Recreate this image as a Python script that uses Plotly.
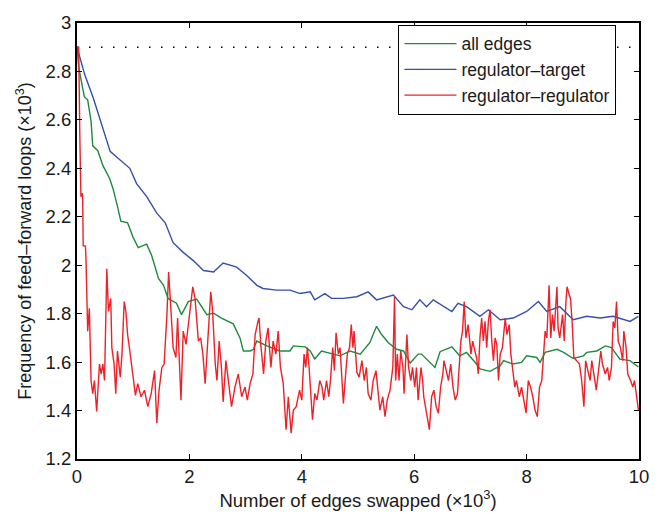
import plotly.graph_objects as go

# ---------------- data ----------------
green_x = [0.00, 0.03, 0.13, 0.19, 0.25, 0.28, 0.37, 0.46, 0.58, 0.64, 0.72, 0.78, 0.90, 1.00, 1.09,
           1.24, 1.33, 1.45, 1.54, 1.62, 1.77, 1.86, 1.98, 2.13, 2.31, 2.43, 2.57, 2.78, 2.90, 2.96,
           3.08, 3.14, 3.20, 3.38, 3.61, 3.79, 3.85, 4.06, 4.15, 4.23, 4.35, 4.56, 4.68, 4.86, 5.04,
           5.21, 5.33, 5.42, 5.54, 5.69, 5.81, 5.93, 6.07, 6.13, 6.28, 6.37, 6.46, 6.67, 6.81, 6.93,
           7.11, 7.17, 7.35, 7.53, 7.59, 7.76, 7.91, 8.00, 8.18, 8.24, 8.33, 8.54, 8.66, 8.83, 9.01,
           9.07, 9.25, 9.40, 9.51, 9.66, 9.84, 9.99]
green_y = [2.90, 2.818, 2.696, 2.683, 2.595, 2.493, 2.473, 2.412, 2.358, 2.317, 2.243, 2.182, 2.175, 2.114, 2.073,
           2.087, 2.039, 1.945, 1.917, 1.863, 1.843, 1.796, 1.85, 1.86, 1.796, 1.802, 1.782, 1.758, 1.70, 1.646,
           1.646, 1.653, 1.687, 1.667, 1.646, 1.646, 1.667, 1.663, 1.646, 1.613, 1.646, 1.633, 1.626, 1.646, 1.633,
           1.68, 1.748, 1.714, 1.68, 1.653, 1.646, 1.596, 1.633, 1.633, 1.599, 1.578, 1.643, 1.663, 1.626, 1.64,
           1.592, 1.572, 1.562, 1.585, 1.606, 1.592, 1.599, 1.626, 1.619, 1.599, 1.64, 1.653, 1.64, 1.615, 1.626,
           1.64, 1.646, 1.667, 1.66, 1.612, 1.606, 1.58]

blue_x = [0.00, 0.04, 0.14, 0.29, 0.47, 0.59, 0.71, 0.85, 0.94, 1.06, 1.24, 1.42, 1.57, 1.71, 1.89,
          2.07, 2.25, 2.43, 2.60, 2.84, 3.02, 3.20, 3.31, 3.55, 3.79, 3.97, 4.15, 4.23, 4.41, 4.53,
          4.74, 4.98, 5.18, 5.33, 5.63, 5.81, 5.96, 6.10, 6.22, 6.34, 6.52, 6.67, 6.78, 6.93, 7.17,
          7.32, 7.53, 7.76, 8.00, 8.21, 8.36, 8.59, 8.83, 9.07, 9.31, 9.54, 9.84, 9.99]
blue_y = [2.90, 2.866, 2.785, 2.69, 2.554, 2.47, 2.446, 2.419, 2.40, 2.337, 2.283, 2.215, 2.175, 2.093, 2.053,
          2.019, 1.978, 1.972, 2.009, 1.992, 1.958, 1.917, 1.904, 1.897, 1.897, 1.883, 1.89, 1.857, 1.883, 1.863,
          1.863, 1.87, 1.89, 1.857, 1.877, 1.829, 1.816, 1.857, 1.829, 1.857, 1.829, 1.809, 1.843, 1.829, 1.789,
          1.816, 1.775, 1.782, 1.809, 1.85, 1.809, 1.829, 1.775, 1.789, 1.782, 1.789, 1.768, 1.789]

red_x = [0.00, 0.03, 0.05, 0.07, 0.10, 0.11, 0.15, 0.16, 0.19, 0.22, 0.25, 0.28, 0.31, 0.35, 0.40,
         0.43, 0.46, 0.49, 0.53, 0.56, 0.60, 0.62, 0.66, 0.69, 0.72, 0.77, 0.80, 0.84, 0.87, 0.90,
         0.94, 0.99, 1.04, 1.08, 1.14, 1.20, 1.26, 1.32, 1.38, 1.42, 1.46, 1.51, 1.55, 1.60, 1.63,
         1.67, 1.71, 1.76, 1.79, 1.85, 1.89, 1.94, 2.00, 2.06, 2.10, 2.13, 2.16, 2.20, 2.24, 2.28,
         2.32, 2.35, 2.38, 2.41, 2.46, 2.49, 2.53, 2.57, 2.60, 2.65, 2.69, 2.75, 2.81, 2.87, 2.93,
         2.99, 3.03, 3.08, 3.13, 3.17, 3.22, 3.24, 3.27, 3.32, 3.36, 3.40, 3.45, 3.49, 3.54, 3.58,
         3.62, 3.67, 3.72, 3.76, 3.81, 3.85, 3.90, 3.96, 4.00, 4.04, 4.07, 4.10, 4.13, 4.16, 4.19,
         4.23, 4.27, 4.32, 4.36, 4.39, 4.44, 4.48, 4.51, 4.55, 4.58, 4.61, 4.65, 4.68, 4.71, 4.74,
         4.78, 4.81, 4.85, 4.88, 4.91, 4.93, 4.98, 5.02, 5.07, 5.11, 5.15, 5.18, 5.23, 5.27, 5.32,
         5.36, 5.39, 5.44, 5.48, 5.52, 5.57, 5.62, 5.65, 5.67, 5.70, 5.73, 5.76, 5.80, 5.82, 5.87,
         5.90, 5.94, 5.97, 6.01, 6.04, 6.07, 6.12, 6.15, 6.17, 6.22, 6.27, 6.31, 6.35, 6.39, 6.43,
         6.47, 6.51, 6.53, 6.57, 6.61, 6.65, 6.69, 6.73, 6.77, 6.80, 6.83, 6.86, 6.89, 6.92, 6.96,
         7.01, 7.04, 7.08, 7.11, 7.14, 7.17, 7.20, 7.23, 7.26, 7.29, 7.32, 7.35, 7.38, 7.41, 7.44,
         7.47, 7.50, 7.53, 7.57, 7.62, 7.65, 7.69, 7.72, 7.76, 7.79, 7.82, 7.87, 7.91, 7.95, 7.99,
         8.03, 8.07, 8.11, 8.15, 8.19, 8.23, 8.27, 8.30, 8.33, 8.36, 8.40, 8.43, 8.46, 8.49, 8.54,
         8.56, 8.59, 8.64, 8.67, 8.70, 8.72, 8.76, 8.78, 8.81, 8.84, 8.89, 8.94, 8.98, 9.02, 9.05,
         9.09, 9.13, 9.16, 9.20, 9.24, 9.28, 9.32, 9.35, 9.40, 9.44, 9.47, 9.51, 9.54, 9.57, 9.60,
         9.63, 9.67, 9.71, 9.73, 9.77, 9.80, 9.85, 9.89, 9.92, 9.96, 9.99]
red_y = [2.90, 2.90, 2.54, 2.283, 2.297, 2.08, 2.08, 2.026, 1.728, 1.822, 1.524, 1.47, 1.524, 1.396, 1.592,
         1.55, 1.592, 1.524, 1.985, 1.809, 1.863, 1.66, 1.592, 1.47, 1.646, 1.538, 1.633, 1.85, 1.809, 1.714,
         1.646, 1.55, 1.463, 1.511, 1.457, 1.484, 1.416, 1.47, 1.565, 1.348, 1.484, 1.578, 1.592, 1.796, 1.972,
         1.822, 1.66, 1.619, 1.782, 1.443, 1.728, 1.673, 1.782, 1.911, 1.863, 1.768, 1.687, 1.70, 1.633, 1.511,
         1.66, 1.768, 1.89, 1.822, 1.592, 1.524, 1.687, 1.578, 1.436, 1.606, 1.524, 1.416, 1.497, 1.551, 1.457,
         1.497, 1.443, 1.511, 1.551, 1.714, 1.768, 1.782, 1.673, 1.551, 1.687, 1.741, 1.578, 1.687, 1.633, 1.728,
         1.578, 1.511, 1.321, 1.457, 1.307, 1.402, 1.416, 1.484, 1.443, 1.633, 1.578, 1.66, 1.578, 1.47, 1.362,
         1.47, 1.443, 1.524, 1.497, 1.443, 1.524, 1.457, 1.524, 1.66, 1.565, 1.721, 1.633, 1.66, 1.538, 1.429,
         1.551, 1.633, 1.66, 1.755, 1.66, 1.728, 1.558, 1.538, 1.606, 1.524, 1.578, 1.47, 1.443, 1.524, 1.565,
         1.457, 1.402, 1.457, 1.375, 1.443, 1.484, 1.578, 1.87, 1.524, 1.633, 1.524, 1.646, 1.578, 1.47, 1.714,
         1.578, 1.524, 1.578, 1.497, 1.578, 1.443, 1.578, 1.524, 1.457, 1.389, 1.321, 1.457, 1.484, 1.416, 1.389,
         1.497, 1.551, 1.606, 1.565, 1.524, 1.592, 1.497, 1.443, 1.47, 1.578, 1.687, 1.728, 1.85, 1.70, 1.755,
         1.633, 1.687, 1.646, 1.619, 1.551, 1.70, 1.782, 1.687, 1.768, 1.66, 1.768, 1.816, 1.687, 1.606, 1.70,
         1.673, 1.524, 1.633, 1.66, 1.782, 1.714, 1.755, 1.633, 1.565, 1.497, 1.524, 1.457, 1.497, 1.443, 1.389,
         1.524, 1.497, 1.457, 1.402, 1.375, 1.497, 1.524, 1.633, 1.728, 1.70, 1.917, 1.70, 1.796, 1.728, 1.911,
         1.741, 1.70, 1.796, 1.687, 1.85, 1.911, 1.877, 1.863, 1.768, 1.619, 1.606, 1.592, 1.524, 1.416, 1.606,
         1.565, 1.524, 1.606, 1.551, 1.484, 1.565, 1.646, 1.592, 1.551, 1.578, 1.524, 1.578, 1.768, 1.741, 1.85,
         1.687, 1.66, 1.606, 1.728, 1.66, 1.551, 1.524, 1.497, 1.524, 1.443, 1.402]

reference_level = 2.9
ref_x = [0, 10]

x_ticks = [0, 2, 4, 6, 8, 10]
x_tick_text = ["0", "2", "4", "6", "8", "10"]
y_ticks = [1.2, 1.4, 1.6, 1.8, 2.0, 2.2, 2.4, 2.6, 2.8, 3.0]
y_tick_text = ["1.2", "1.4", "1.6", "1.8", "2", "2.2", "2.4", "2.6", "2.8", "3"]

series_names = ["all edges", "regulator–target", "regulator–regulator"]

# ---------------- figure ----------------
FONT = "Liberation Sans, Arial, Helvetica, sans-serif"
TXT = "#1a1a1a"
GREEN = "#1f8a3f"
BLUE = "#3450aa"
RED = "#ee2028"

fig = go.Figure()
fig.add_trace(go.Scatter(x=ref_x, y=[reference_level] * len(ref_x), mode="lines",
                         line=dict(color="black", width=1.5, dash="1.5px,10.5px"),
                         showlegend=False, hoverinfo="skip"))
fig.add_trace(go.Scatter(x=green_x, y=green_y, mode="lines", name=series_names[0],
                         line=dict(color=GREEN, width=1.4)))
fig.add_trace(go.Scatter(x=blue_x, y=blue_y, mode="lines", name=series_names[1],
                         line=dict(color=BLUE, width=1.4)))
fig.add_trace(go.Scatter(x=red_x, y=red_y, mode="lines", name=series_names[2],
                         line=dict(color=RED, width=1.4)))

axis_common = dict(showline=True, linecolor="black", linewidth=2, mirror="ticks",
                   ticks="inside", ticklen=5, tickwidth=1, tickcolor="black",
                   showgrid=False, zeroline=False,
                   tickfont=dict(family=FONT, size=18.5, color=TXT))

fig.update_xaxes(range=[0, 10], tickvals=x_ticks, ticktext=x_tick_text,
                 title=dict(text="Number of edges swapped (×10<sup>3</sup>)",
                            font=dict(family=FONT, size=18.5, color=TXT), standoff=2),
                 **axis_common)
fig.update_yaxes(range=[1.2, 3], tickvals=y_ticks, ticktext=y_tick_text,
                 title=dict(text="Frequency of feed–forward loops (×10<sup>3</sup>)",
                            font=dict(family=FONT, size=18, color=TXT), standoff=9),
                 **axis_common)

fig.update_layout(
    width=662, height=514,
    margin=dict(l=77, r=23, t=17, b=54),
    paper_bgcolor="white", plot_bgcolor="white",
    font=dict(family=FONT, size=18, color=TXT),
    legend=dict(x=0.572, y=0.996, xanchor="left", yanchor="top",
                bgcolor="white", bordercolor="black", borderwidth=1,
                font=dict(family=FONT, size=17.5, color=TXT),
                tracegroupgap=0, itemwidth=52),
)

fig.write_html("out.html")
